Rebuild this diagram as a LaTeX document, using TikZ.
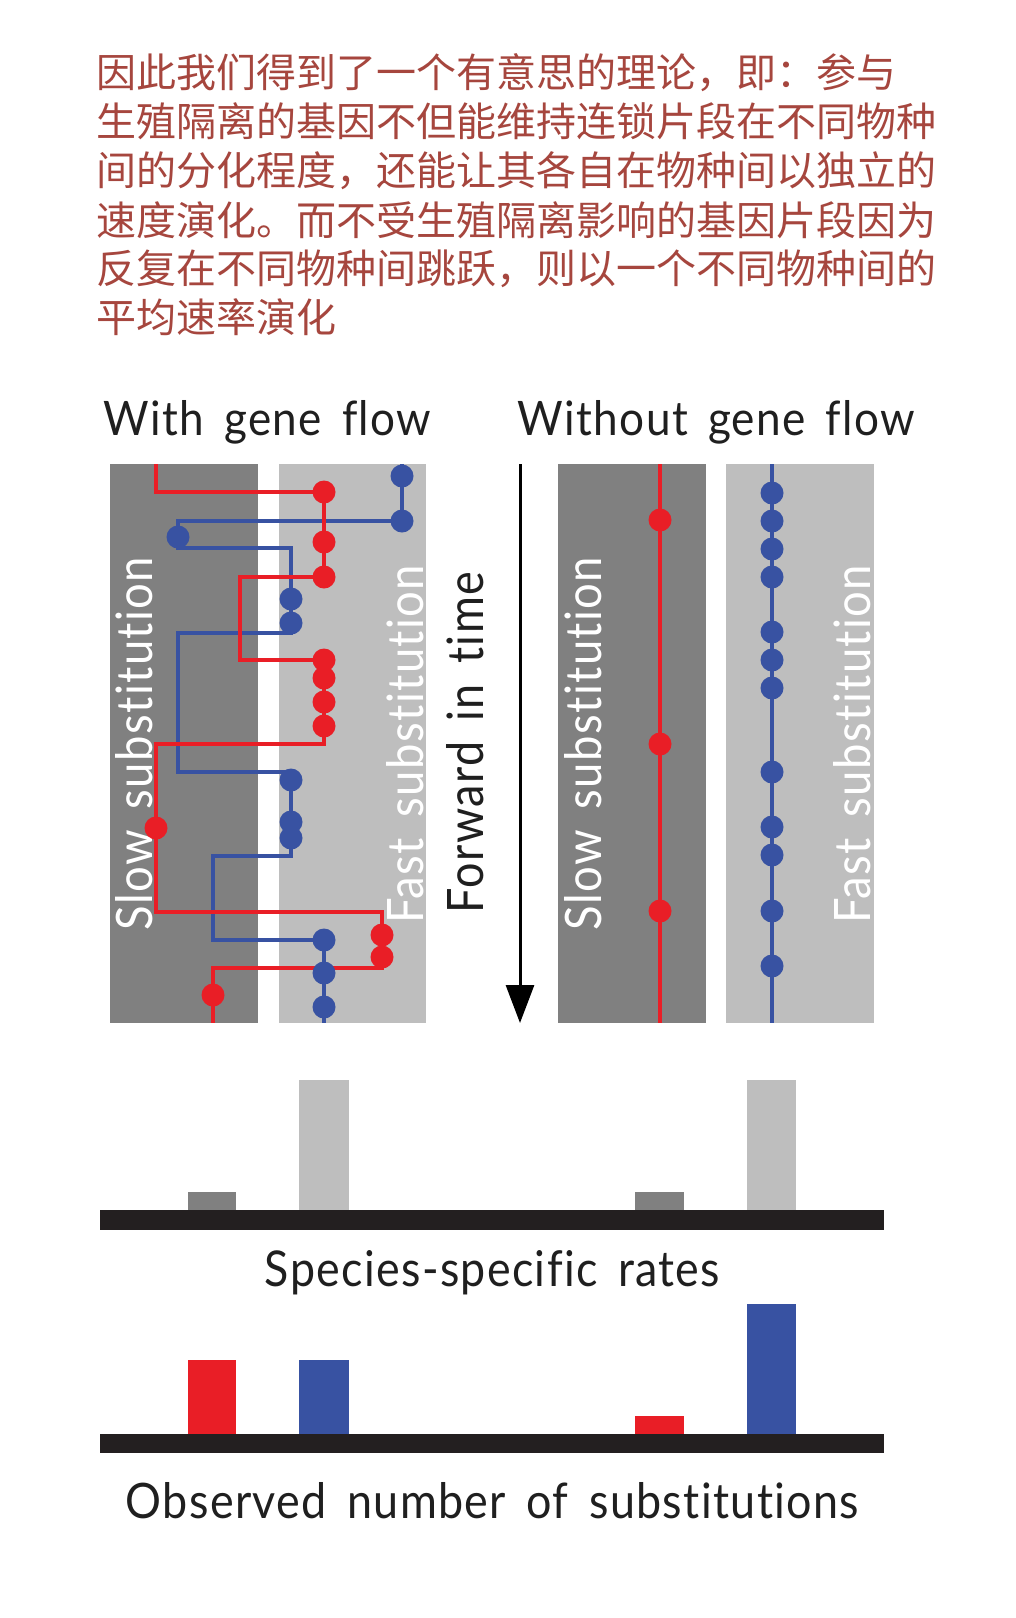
\documentclass[tikz,border=0pt]{standalone}
\usepackage{fontspec}
\usepackage{graphicx}
\usetikzlibrary{arrows.meta}
\newfontfamily\lato[LetterSpace=3,WordSpace=1.6,Ligatures=NoCommon]{Lato}
\newfontfamily\cjk{Noto Sans CJK SC}
\definecolor{cjkred}{RGB}{166,70,62}
\definecolor{lred}{RGB}{233,30,38}
\definecolor{lblue}{RGB}{56,82,162}
\definecolor{dgray}{RGB}{128,128,128}
\definecolor{lgray}{RGB}{190,190,190}
\definecolor{barblack}{RGB}{35,31,32}
\tikzset{
  cjkline/.style={anchor=base west, inner sep=0pt, text=cjkred, font=\cjk\fontsize{40}{40}\selectfont},
  lbl/.style={anchor=base, inner sep=0pt, text=black!88},
  wlbl/.style={anchor=base, inner sep=0pt, text=white, rotate=90},
  blbl/.style={anchor=base, inner sep=0pt, text=black!88, rotate=90},
  redpath/.style={draw=lred, line width=4.8pt},
  bluepath/.style={draw=lblue, line width=4.8pt},
  timearrow/.style={draw=black, line width=3pt, -{Triangle[length=38pt,width=28pt]}},
}
\begin{document}
\begin{tikzpicture}[x=1pt,y=-1pt]
\useasboundingbox (0,0) rectangle (1016,1618);
\fill[white] (0,0) rectangle (1016,1618);

% Chinese paragraph
\node[cjkline] (c1) at (96,87)  {因此我们得到了一个有意思的理论，即：参与};
\node[cjkline] (c2) at (96,136) {生殖隔离的基因不但能维持连锁片段在不同物种};
\node[cjkline] (c3) at (96,185) {间的分化程度，还能让其各自在物种间以独立的};
\node[cjkline] (c4) at (96,235) {速度演化。而不受生殖隔离影响的基因片段因为};
\node[cjkline] (c5) at (96,283) {反复在不同物种间跳跃，则以一个不同物种间的};
\node[cjkline] (c6) at (96,332) {平均速率演化};

% titles
\node[lbl] (tw) at (267.5,435) {\resizebox{327pt}{35pt}{\lato With gene flow}};
\node[lbl] (two) at (716.5,435) {\resizebox{397pt}{35pt}{\lato Without gene flow}};

% lanes
\fill[dgray] (110,464) rectangle (258,1023);
\fill[lgray] (278.5,464) rectangle (426,1023);
\fill[dgray] (558,464) rectangle (705.5,1023);
\fill[lgray] (726,464) rectangle (874,1023);

% lane labels
\node[wlbl] (ls) at (152,743.5) {\resizebox{373pt}{37pt}{\lato Slow substitution}};
\node[wlbl] (lf) at (423,744) {\resizebox{358pt}{37pt}{\lato Fast substitution}};
\node[wlbl] (rs) at (601,743.5) {\resizebox{373pt}{37pt}{\lato Slow substitution}};
\node[wlbl] (rf) at (870,744) {\resizebox{358pt}{37pt}{\lato Fast substitution}};

% time arrow
\coordinate (ta) at (520,464);
\coordinate (tb) at (520,1023);
\draw[timearrow] (ta) -- (tb);
\node[blbl] (ft) at (483,742.5) {\resizebox{341pt}{37pt}{\lato Forward in time}};

% with gene flow: blue lineage
\draw[bluepath] (402,464) -- (402,521) -- (178,521) -- (178,548) -- (291,548) -- (291,633)
  -- (178,633) -- (178,772) -- (291,772) -- (291,856) -- (213,856) -- (213,940)
  -- (324,940) -- (324,1023);
% with gene flow: red lineage
\draw[redpath] (156,464) -- (156,492) -- (324,492) -- (324,577) -- (240,577) -- (240,660)
  -- (324,660) -- (324,744) -- (156,744) -- (156,912) -- (382,912) -- (382,968)
  -- (213,968) -- (213,1023);
\foreach \x/\y in {402/476, 402/521, 178/537, 291/599, 291/623, 291/780, 291/822, 291/838,
                   324/940, 324/973, 324/1007}
  \fill[lblue] (\x,\y) circle[radius=11.5pt];
\foreach \x/\y in {324/492, 324/542, 324/577, 324/660, 324/678, 324/702, 324/726,
                   156/828, 382/935, 382/957, 213/995}
  \fill[lred] (\x,\y) circle[radius=11.5pt];

% without gene flow
\draw[redpath] (660,464) -- (660,1023);
\draw[bluepath] (772,464) -- (772,1023);
\foreach \y in {520, 744, 911}
  \fill[lred] (660,\y) circle[radius=11.5pt];
\foreach \y in {493, 521, 549, 577, 632, 660, 688, 772, 827, 855, 911, 966}
  \fill[lblue] (772,\y) circle[radius=11.5pt];

% species-specific rates
\fill[dgray] (188,1192) rectangle (236,1210);
\fill[lgray] (299,1080) rectangle (349,1210);
\fill[dgray] (635,1192) rectangle (684,1210);
\fill[lgray] (747,1080) rectangle (796,1210);
\fill[barblack] (100,1210) rectangle (884,1230);
\node[lbl] (ssr) at (492.5,1286) {\resizebox{455pt}{36pt}{\lato Species-specific rates}};

% observed substitutions
\fill[lred] (188,1360) rectangle (236,1434);
\fill[lblue] (299,1360) rectangle (349,1434);
\fill[lred] (635,1416) rectangle (684,1434);
\fill[lblue] (747,1304) rectangle (796,1434);
\fill[barblack] (100,1434) rectangle (884,1453);
\node[lbl] (obs) at (492.5,1518) {\resizebox{733pt}{36pt}{\lato Observed number of substitutions}};
\end{tikzpicture}
\end{document}
